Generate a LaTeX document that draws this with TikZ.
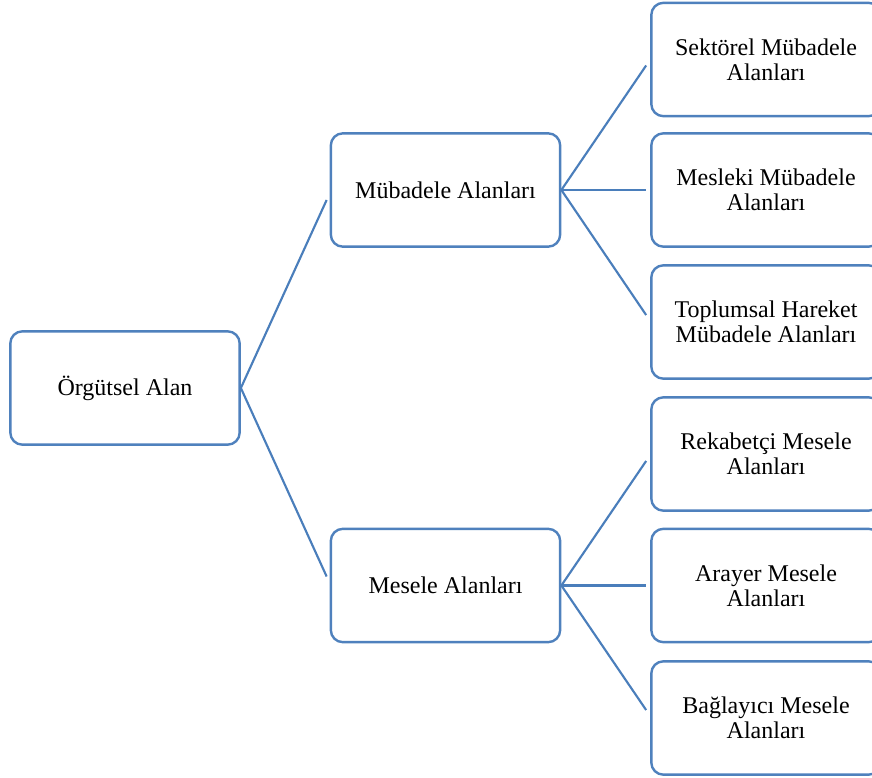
\documentclass[tikz,border=0pt]{standalone}
\usepackage{fontspec}
\setmainfont{Liberation Serif}
\usetikzlibrary{calc}
\definecolor{boxblue}{HTML}{4F81BD}
\definecolor{linkblue}{HTML}{4A7EBB}
\tikzset{
  fbox/.style={draw=boxblue, line width=1.8pt, rounded corners=9pt, fill=white,
    minimum width=172pt, minimum height=85pt, align=center, inner sep=2pt,
    font=\fontsize{18}{18.5}\selectfont},
  link/.style={draw=linkblue, line width=1.6pt}
}
\begin{document}
\begin{tikzpicture}[x=0.75pt,y=-0.75pt]
\useasboundingbox (0,0) rectangle (872,778);
\clip (0,0) rectangle (872,778);
\node[fbox] (root) at (125,388) {Örgütsel Alan};
\node[fbox] (mub) at (445.5,190) {Mübadele Alanları};
\node[fbox] (mes) at (445.5,585.5) {Mesele Alanları};
\node[fbox] (s1) at (766,59.5) {Sektörel Mübadele\\Alanları};
\node[fbox] (s2) at (766,190) {Mesleki Mübadele\\Alanları};
\node[fbox] (s3) at (766,322) {Toplumsal Hareket\\Mübadele Alanları};
\node[fbox] (s4) at (766,454) {Rekabetçi Mesele\\Alanları};
\node[fbox] (s5) at (766,585.5) {Arayer Mesele\\Alanları};
\node[fbox] (s6) at (766,718) {Bağlayıcı Mesele\\Alanları};
\draw[link] (root.east) -- ($(mub.west)+(-3,10)$);
\draw[link] (root.east) -- ($(mes.west)+(-3,-9)$);
\draw[link] (mub.east) -- ($(s1.west)+(-4,6)$);
\draw[link] (mub.east) -- ($(s2.west)+(-4,0)$);
\draw[link] (mub.east) -- ($(s3.west)+(-4,-7)$);
\draw[link] (mes.east) -- ($(s4.west)+(-4,7)$);
\draw[link] (mes.east) -- ($(s5.west)+(-4,0)$);
\draw[link] (mes.east) -- ($(s6.west)+(-4,-8)$);
\end{tikzpicture}
\end{document}
